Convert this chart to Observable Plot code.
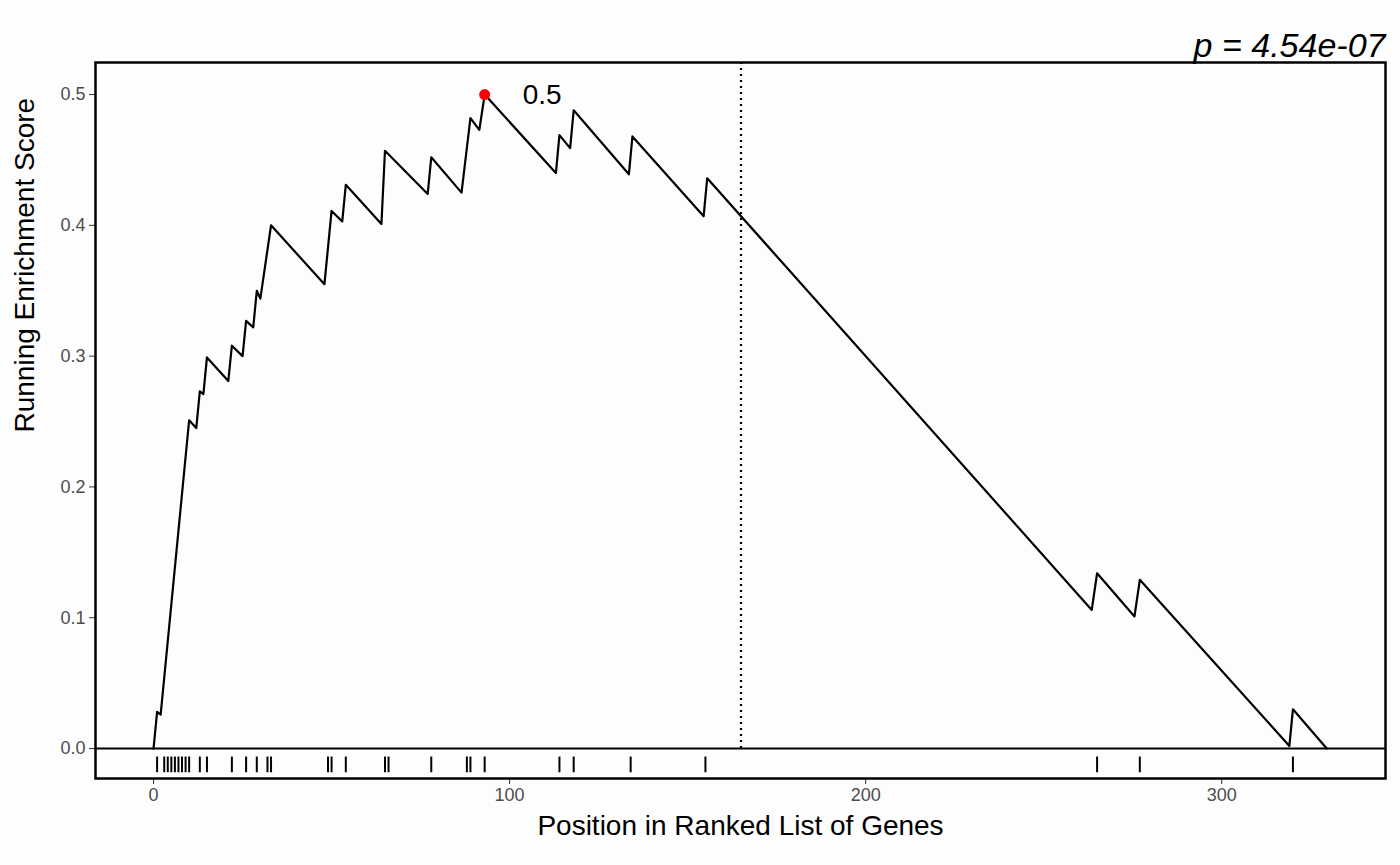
<!DOCTYPE html>
<html><head><meta charset="utf-8">
<script src="https://cdn.jsdelivr.net/npm/d3@7"></script>
<script src="https://cdn.jsdelivr.net/npm/@observablehq/plot@0.6"></script>
<style>body{margin:0;background:#fdfdfd;font-family:"Liberation Sans",Arial,sans-serif}</style>
</head><body><div id="c"></div>
<script>
const curveX = [0,1,2,10,12,13,14,15,21,22,25,26,28,29,30,33,48,50,53,54,64,65,77,78,86.5,89,91.5,93,113,114,117,118,133.5,134.5,154.5,155.5,263.5,265,275.5,277,319,320,329.5];
const curveY = [0,0.028,0.026,0.251,0.245,0.273,0.271,0.299,0.281,0.308,0.300,0.327,0.322,0.350,0.344,0.400,0.355,0.411,0.403,0.431,0.401,0.457,0.424,0.452,0.425,0.482,0.473,0.500,0.440,0.469,0.459,0.488,0.439,0.468,0.407,0.436,0.106,0.134,0.101,0.129,0.002,0.030,0];
const hits = [1,3,4,5,6,7,8,9,10,13,15,22,26,29,32,33,49,50,54,65,66,78,88,89,93,114,118,134,155,265,277,320];
const peak = {x:93, y:0.5, label:"0.5"};
const cutoff = 165;
const pLabel = "p = 4.54e-07";
const xTicks = [0,100,200,300];
const yTicks = [0,0.1,0.2,0.3,0.4,0.5];

const curve = curveX.map((x,i)=>({x, y:curveY[i]}));
const ff = '"Liberation Sans",Arial,sans-serif';
const chart = Plot.plot({
  width:1400, height:865,
  marginTop:62, marginBottom:87, marginLeft:95, marginRight:15,
  style:{background:"#fdfdfd", fontFamily:ff, fontSize:"18px", color:"#4d4d4d", overflow:"visible"},
  x:{domain:[-16.3,346], label:null},
  y:{domain:[-0.0229,0.5245], label:null},
  marks:[
    Plot.axisX({ticks:xTicks, tickSize:6, tickPadding:4, fill:"#4d4d4d", stroke:"#333", fontSize:18}),
    Plot.axisY({ticks:yTicks, tickFormat:d3.format(".1f"), tickSize:6, tickPadding:4, fill:"#4d4d4d", stroke:"#333", fontSize:18}),
    Plot.ruleX([cutoff], {y1:0, y2:0.5245, stroke:"black", strokeWidth:2.2, strokeDasharray:"2,4"}),
    Plot.line(curve, {x:"x", y:"y", stroke:"black", strokeWidth:2.2}),
    Plot.ruleY([0], {stroke:"black", strokeWidth:2}),
    Plot.ruleX(hits, {y1:-0.0065, y2:-0.0185, stroke:"black", strokeWidth:2}),
    Plot.dot([peak], {x:"x", y:"y", r:5.5, fill:"#ff0000"}),
    Plot.text([peak], {x:"x", y:"y", text:"label", dx:38, textAnchor:"start", fontSize:28, fill:"black"}),
    Plot.frame({stroke:"black", strokeWidth:2.5}),
    Plot.text([pLabel], {frameAnchor:"top-right", dy:-30, dx:0, fontSize:34, fontStyle:"italic", fill:"black", textAnchor:"end"}),
    Plot.text(["Position in Ranked List of Genes"], {frameAnchor:"bottom", dy:56, fontSize:28, fill:"black"}),
    Plot.text(["Running Enrichment Score"], {frameAnchor:"left", dx:-70, dy:12, rotate:-90, fontSize:28, fill:"black"})
  ]
});
document.getElementById("c").appendChild(chart);
</script></body></html>
